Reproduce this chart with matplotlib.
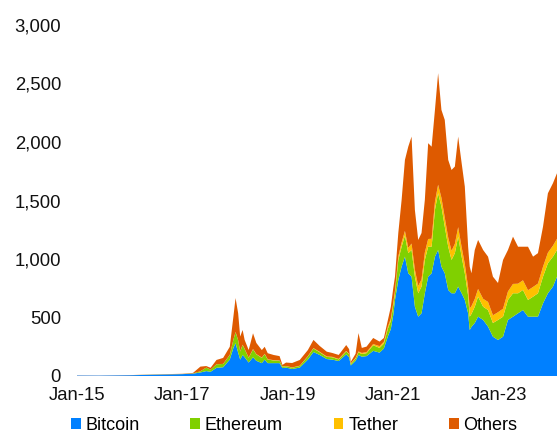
import numpy as np
import pandas as pd
import matplotlib
matplotlib.use('Agg')
import matplotlib.pyplot as plt
import matplotlib.dates as mdates
import matplotlib.patches as patches
from matplotlib.ticker import FuncFormatter

plt.rcParams['font.family'] = ['Liberation Sans', 'DejaVu Sans']

# market capitalisation, USD bn
dates = ['2015-01-01', '2015-06-01', '2016-01-01', '2016-06-15', '2017-01-01',
         '2017-03-15', '2017-05-05', '2017-06-15', '2017-07-15', '2017-08-25',
         '2017-10-10', '2017-11-25', '2017-12-20', '2018-01-04', '2018-01-22',
         '2018-02-05', '2018-02-22', '2018-03-08', '2018-04-05', '2018-05-05',
         '2018-05-28', '2018-07-05', '2018-07-25', '2018-08-15', '2018-09-25',
         '2018-11-05', '2018-11-25', '2018-12-20', '2019-01-31', '2019-03-25',
         '2019-05-20', '2019-06-28', '2019-08-10', '2019-09-28', '2019-11-05',
         '2019-12-20', '2020-02-10', '2020-03-01', '2020-03-13', '2020-04-15',
         '2020-05-05', '2020-05-28', '2020-06-30', '2020-08-15', '2020-09-28',
         '2020-10-28', '2020-11-25', '2020-12-15', '2021-01-01', '2021-01-13',
         '2021-02-05', '2021-02-28', '2021-03-23', '2021-04-15', '2021-05-08',
         '2021-05-31', '2021-06-23', '2021-07-16', '2021-08-08', '2021-08-31',
         '2021-09-24', '2021-10-17', '2021-11-08', '2021-12-01', '2021-12-24',
         '2022-01-17', '2022-02-09', '2022-03-04', '2022-03-27', '2022-04-20',
         '2022-05-12', '2022-06-04', '2022-06-15', '2022-06-27', '2022-07-20',
         '2022-08-12', '2022-09-16', '2022-10-20', '2022-11-23', '2022-12-28',
         '2023-02-01', '2023-03-07', '2023-04-11', '2023-05-16', '2023-06-19',
         '2023-07-24', '2023-08-28', '2023-10-01', '2023-11-05', '2023-12-09',
         '2024-01-13', '2024-02-10']

bitcoin = [4, 3.4, 6.5, 11, 16,
           20, 30, 42, 36, 70,
           75, 140, 240, 280, 200,
           140, 180, 160, 115, 160,
           130, 110, 140, 110, 110,
           110, 68, 72, 60, 72,
           140, 205, 180, 145, 140,
           128, 185, 160, 90, 130,
           180, 165, 170, 215, 200,
           235, 340, 400, 520, 650,
           820, 935, 1020, 878, 849,
           592, 507, 536, 707, 849,
           878, 1020, 1077, 935, 878,
           735, 707, 707, 764, 707,
           650, 536, 393, 420, 453,
           507, 479, 422, 336, 308,
           336, 479, 507, 536, 564,
           507, 507, 507, 621, 707,
           764, 849]

ethereum = [0, 0, 0.1, 1.2, 0.9,
            2.5, 10, 30, 18, 30,
            28, 40, 70, 95, 105,
            70, 85, 70, 40, 68,
            55, 45, 47, 30, 23,
            21, 12, 12, 11, 14,
            27, 30, 23, 18, 20,
            14, 25, 25, 13, 18,
            22, 23, 25, 48, 40,
            42, 65, 70, 85, 57,
            172, 170, 180, 172, 228,
            257, 200, 228, 285, 256,
            227, 400, 485, 513, 400,
            370, 285, 343, 427, 313,
            228, 150, 114, 110, 139,
            171, 113, 142, 117, 171,
            171, 171, 200, 171, 171,
            143, 171, 200, 228, 257,
            256, 228]

tether = [0, 0, 0, 0, 0,
          0, 0.1, 0.1, 0.1, 0.3,
          0.5, 0.7, 1, 1.4, 1.6,
          2, 2.2, 2.2, 2.3, 2.3,
          2.5, 2.6, 2.7, 2.7, 2.7,
          2, 1.8, 2, 2, 2,
          2.5, 3.5, 4, 4, 4,
          4.1, 4.6, 4.7, 4.8, 6.4,
          8, 9, 9.2, 10, 15,
          16, 18, 20, 21, 22,
          30, 36, 40, 45, 55,
          60, 62, 62, 64, 66,
          68, 70, 73, 75, 77,
          78, 78, 79, 81, 82,
          80, 72, 70, 67, 66,
          66, 68, 69, 66, 66,
          68, 72, 80, 82, 83,
          83, 83, 83, 85, 90,
          94, 96]

others = [1, 0.8, 1, 1.5, 2,
          4, 40, 13, 16, 37,
          51, 69, 196, 290, 230,
          125, 126, 76, 65, 135,
          95, 64, 60, 52, 44,
          37, 13, 29, 38, 49,
          52, 70, 50, 41, 33,
          34, 50, 40, 14, 36,
          157, 43, 47, 52, 39,
          32, 56, 100, 124, 120,
          200, 364, 607, 865, 914,
          510, 394, 396, 449, 819,
          787, 784, 953, 751, 834,
          664, 691, 661, 774, 718,
          661, 347, 358, 281, 419,
          419, 417, 387, 330, 250,
          417, 355, 404, 316, 287,
          372, 259, 260, 342, 508,
          534, 560]

labels = ['Bitcoin', 'Ethereum', 'Tether', 'Others']
colors = ['#0080FF', '#80D000', '#FFC000', '#DE5A00']

x = pd.to_datetime(dates)

fig = plt.figure(figsize=(5.58, 4.33), dpi=100)
ax = fig.add_axes([77/558, 57/433, 480/558, 351/433])

ax.stackplot(x, bitcoin, ethereum, tether, others, colors=colors,
             linewidth=0, antialiased=True)

ax.set_ylim(0, 3000)
ax.set_yticks(np.arange(0, 3001, 500))
ax.yaxis.set_major_formatter(FuncFormatter(lambda v, p: '{:,.0f}'.format(v)))
ax.set_xlim(x[0], x[-1])
ax.set_xticks(pd.to_datetime(['2015-01-01', '2017-01-01', '2019-01-01',
                              '2021-01-01', '2023-01-01']))
ax.xaxis.set_major_formatter(mdates.DateFormatter('%b-%y'))

for s in ax.spines.values():
    s.set_visible(False)
ax.tick_params(axis='y', length=0, pad=11.5, labelsize=13.3, colors='#111111')
ax.tick_params(axis='x', length=0, pad=8, labelsize=13.3, colors='#111111')

handles = [patches.Patch(facecolor=c, edgecolor='none') for c in colors]
fig.legend(handles, labels, loc='center', bbox_to_anchor=(0.527, 0.018),
           ncol=4, frameon=False, fontsize=13, handlelength=0.55,
           handleheight=0.55, handletextpad=0.26, columnspacing=2.8,
           borderaxespad=0, borderpad=0)

fig.savefig('out.png', dpi=100)
